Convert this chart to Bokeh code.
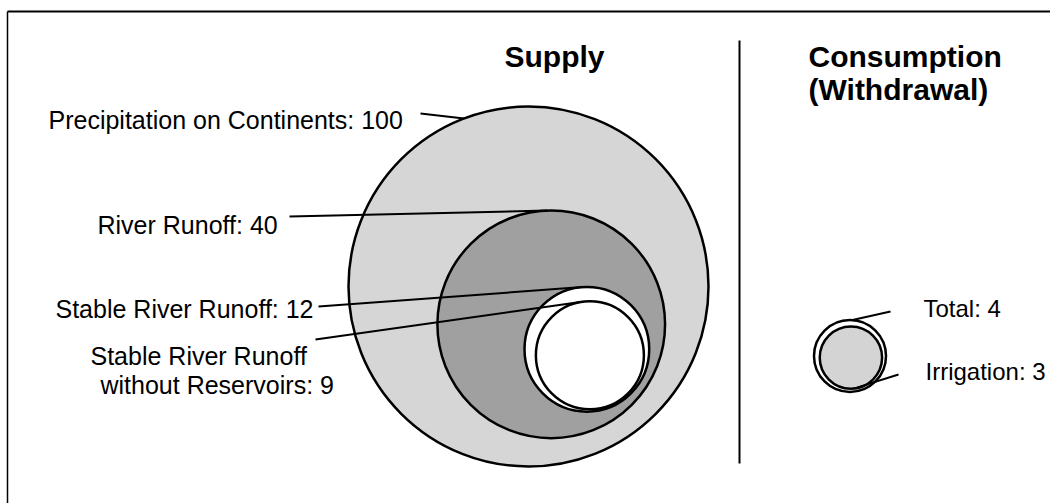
import numpy as np
from bokeh.plotting import figure
from bokeh.models import Range1d
from bokeh.core.properties import value
from bokeh.embed import file_html
from bokeh.resources import INLINE

# ---------------- data ----------------
supply_labels = ["Precipitation on Continents", "River Runoff",
                 "Stable River Runoff", "Stable River Runoff\nwithout Reservoirs"]
supply_values = [100, 40, 12, 9]
consumption_labels = ["Total", "Irrigation"]
consumption_values = [4, 3]
panel_titles = ["Supply", "Consumption\n(Withdrawal)"]

# ---------------- layout / style ----------------
W, H = 1050, 503
X0, Y0 = 0, 0
K = 18.0                       # px per sqrt(unit): circle area ~ value
FONT = value("Liberation Sans")
LBL_SHIFT = 9                  # text baseline correction
TTL_SHIFT = 10

p = figure(width=W, height=H, x_range=Range1d(X0, X0 + W), y_range=Range1d(Y0 + H, Y0),
           output_backend="svg", toolbar_location=None, min_border=0)
p.axis.visible = False
p.grid.visible = False
p.outline_line_color = None
p.background_fill_color = "white"
p.border_fill_color = "white"


def nest(vals, c0, angles, gaps):
    r = K * np.sqrt(np.asarray(vals, dtype=float))
    cx, cy = [c0[0]], [c0[1]]
    for i in range(1, len(r)):
        d = r[i - 1] - r[i] - gaps[i - 1]
        a = np.radians(angles[i - 1])
        cx.append(cx[-1] + d * np.cos(a))
        cy.append(cy[-1] + d * np.sin(a))
    return np.array(cx), np.array(cy), r


def on_circle(cx, cy, r, theta_deg):
    t = np.radians(theta_deg)
    return cx + r * np.sin(t), cy - r * np.cos(t)


# frame (top and left edges only) and divider
p.segment(x0=[7], y0=[11], x1=[W + 5], y1=[11], line_color="black", line_width=2)
p.segment(x0=[7], y0=[11], x1=[7], y1=[H + 5], line_color="black", line_width=1.5)
p.segment(x0=[739], y0=[40], x1=[739], y1=[463], line_color="black", line_width=2)

# ---- supply circles ----
scx, scy, sr = nest(supply_values, (528, 286), [59, 35, 63], [22, 8, 1.7])
supply_fill = ["#d6d6d6", "#a0a0a0", "white", "white"]
p.circle(x=scx, y=scy, radius=sr, fill_color=supply_fill, line_color="black", line_width=2.5)

# ---- consumption circles ----
ccx, ccy, cr = nest(consumption_values, (849.5, 355.5), [60], [3])
cons_fill = ["white", "#d4d4d4"]
p.circle(x=ccx, y=ccy, radius=cr, fill_color=cons_fill, line_color="black", line_width=2.5)

# ---- leaders ----
s_lead_start = [(420, 113), (289, 216), (318, 306), (315, 339)]
s_lead_theta = [-21, -2, -4, -10]
c_lead_end = [(890, 311), (898, 374)]
c_lead_theta = [4, 175]

x0s, y0s, x1s, y1s = [], [], [], []
for i in range(len(supply_values)):
    ex, ey = on_circle(scx[i], scy[i], sr[i], s_lead_theta[i])
    x0s.append(s_lead_start[i][0]); y0s.append(s_lead_start[i][1]); x1s.append(ex); y1s.append(ey)
for i in range(len(consumption_values)):
    sx, sy = on_circle(ccx[i], ccy[i], cr[i], c_lead_theta[i])
    x0s.append(sx); y0s.append(sy); x1s.append(c_lead_end[i][0]); y1s.append(c_lead_end[i][1])
p.segment(x0=x0s, y0=y0s, x1=x1s, y1=y1s, line_color="black", line_width=2)

# ---- labels ----
s_text_pos = [[(48, 128)], [(97, 233)], [(55, 317)], [(90, 364), (100, 393)]]
c_text_pos = [[(923, 317)], [(925, 380)]]

tx, ty, tt = [], [], []
for lab, v, pos in zip(supply_labels, supply_values, s_text_pos):
    for ln, (x, y) in zip(f"{lab}: {v}".split("\n"), pos):
        tx.append(x); ty.append(y - LBL_SHIFT); tt.append(ln)
p.text(x=tx, y=ty, text=tt, text_font=FONT, text_font_size="25px", text_color="black",
       text_align="left", text_baseline="alphabetic")

cx_, cy_, ct_ = [], [], []
for lab, v, pos in zip(consumption_labels, consumption_values, c_text_pos):
    for ln, (x, y) in zip(f"{lab}: {v}".split("\n"), pos):
        cx_.append(x); cy_.append(y - LBL_SHIFT); ct_.append(ln)
p.text(x=cx_, y=cy_, text=ct_, text_font=FONT, text_font_size="24px", text_color="black",
       text_align="left", text_baseline="alphabetic")

# ---- titles ----
title_pos = [[(504, 66)], [(808, 66), (808, 99)]]
hx, hy, ht = [], [], []
for t, pos in zip(panel_titles, title_pos):
    for ln, (x, y) in zip(t.split("\n"), pos):
        hx.append(x); hy.append(y - TTL_SHIFT); ht.append(ln)
p.text(x=hx, y=hy, text=ht, text_font=FONT, text_font_size="30px", text_font_style="bold",
       text_color="black", text_align="left", text_baseline="alphabetic")

open("out.html", "w").write(file_html(p, INLINE))
